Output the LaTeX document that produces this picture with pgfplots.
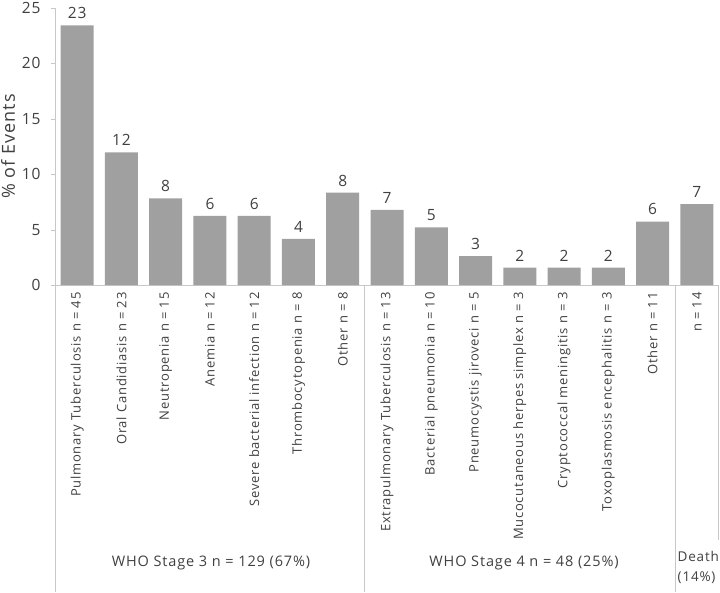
\documentclass[border=0pt]{standalone}
\usepackage{pgfplots}
\pgfplotsset{compat=1.18}
\usepackage{fontspec}
\setmainfont{Open Sans}[LetterSpace=6]
\definecolor{bargray}{HTML}{A0A0A0}
\definecolor{txt}{HTML}{404040}
\definecolor{axgray}{HTML}{C8C8C8}
\begin{document}
\begin{tikzpicture}[x=1pt,y=1pt]
\useasboundingbox (0,0) rectangle (720,592);
\begin{axis}[
  at={(55pt,307pt)}, anchor=south west,
  scale only axis,
  width=664pt, height=277pt,
  ybar, bar width=33pt,
  xmin=-0.5, xmax=14.5,
  ymin=0, ymax=25,
  ytick={0,5,...,25},
  xtick=data,
  xticklabels={Pulmonary Tuberculosis n = 45, Oral Candidiasis n = 23, Neutropenia n = 15, Anemia n = 12, Severe bacterial infection n = 12, Thrombocytopenia n = 8, Other n = 8, Extrapulmonary Tuberculosis n = 13, Bacterial pneumonia n = 10, Pneumocystis jiroveci n = 5, Mucocutaneous herpes simplex n = 3, Cryptococcal meningitis n = 3, Toxoplasmosis encephalitis n = 3, Other n = 11, n = 14},
  x tick label style={rotate=90, anchor=east, font=\fontsize{13}{15}\selectfont, text=txt},
  y tick label style={font=\fontsize{15.5}{18}\selectfont, text=txt, xshift=-7pt},
  /pgf/number format/assume math mode=true,
  ylabel={\% of Events},
  ylabel style={font=\fontsize{18}{20}\selectfont, text=txt},
  axis x line*=bottom, axis y line*=left,
  axis line style={draw=axgray, thick},
  x axis line style={-}, y axis line style={-},
  xtick style={draw=none},
  ytick style={draw=axgray},
  major tick length=4pt,
  tick align=outside,
  nodes near coords={\pgfmathprintnumber[precision=0,fixed]{\pgfplotspointmeta}},
  every node near coord/.append style={font=\fontsize{15.5}{18}\selectfont, text=txt, yshift=3pt},
  clip=false,
]
\addplot[fill=bargray, draw=none] coordinates {
  (0,23.44) (1,11.98) (2,7.81) (3,6.25) (4,6.25) (5,4.17) (6,8.33)
  (7,6.77) (8,5.21) (9,2.60) (10,1.56) (11,1.56) (12,1.56) (13,5.73) (14,7.29)
};
\end{axis}
% group separators
\draw[axgray, thick] (55,307) -- (55,0);
\draw[axgray, thick] (364,307) -- (364,0);
\draw[axgray, thick] (675,307) -- (675,0);
\draw[axgray, thick] (718.5,307) -- (718.5,52);
\node[text=txt, font=\fontsize{14.5}{16}\selectfont] at (211,29) {WHO Stage 3 n = 129 (67\%)};
\node[text=txt, font=\fontsize{14.5}{16}\selectfont] at (524,29) {WHO Stage 4 n = 48 (25\%)};
\node[text=txt, font=\fontsize{13.5}{20}\selectfont, align=left, anchor=north west, inner sep=1pt] at (676.5,42) {Death\\(14\%)};
\end{tikzpicture}
\end{document}
